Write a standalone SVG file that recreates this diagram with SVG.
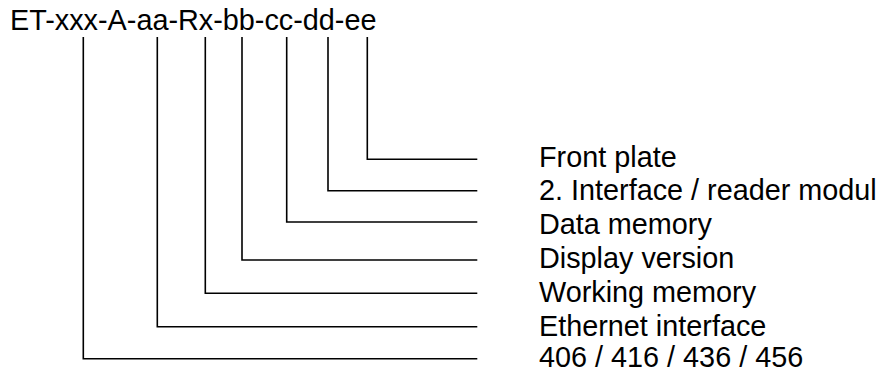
<svg xmlns="http://www.w3.org/2000/svg" width="887" height="372" viewBox="0 0 887 372">
<style>
.t{font-family:"Liberation Sans",Arial,sans-serif;font-size:28.8px;fill:#000}
.c{fill:none;stroke:#000;stroke-width:1.6}
</style>
<rect width="887" height="372" fill="#fff"/>
<g id="title"><text class="t" x="10" y="30">ET-xxx-A-aa-Rx-bb-cc-dd-ee</text></g>
<g id="connectors">
<polyline class="c" points="367.3,37 367.3,159.3 477.3,159.3"/>
<polyline class="c" points="328,37 328,190.7 477.3,190.7"/>
<polyline class="c" points="286.7,37 286.7,222 477.3,222"/>
<polyline class="c" points="242,37 242,260 477.3,260"/>
<polyline class="c" points="205.3,37 205.3,293.3 477.3,293.3"/>
<polyline class="c" points="157.3,37 157.3,326.7 477.3,326.7"/>
<polyline class="c" points="83.3,37 83.3,358.7 477.3,358.7"/>
</g>
<g id="label-front"><text class="t" x="539" y="167">Front plate</text></g>
<g id="label-interface"><text class="t" x="539" y="200">2. Interface / reader modul</text></g>
<g id="label-data"><text class="t" x="539" y="234">Data memory</text></g>
<g id="label-display"><text class="t" x="539" y="268">Display version</text></g>
<g id="label-working"><text class="t" x="539" y="302">Working memory</text></g>
<g id="label-ethernet"><text class="t" x="539" y="336">Ethernet interface</text></g>
<g id="label-type"><text class="t" x="539" y="367">406 / 416 / 436 / 456</text></g>
</svg>
